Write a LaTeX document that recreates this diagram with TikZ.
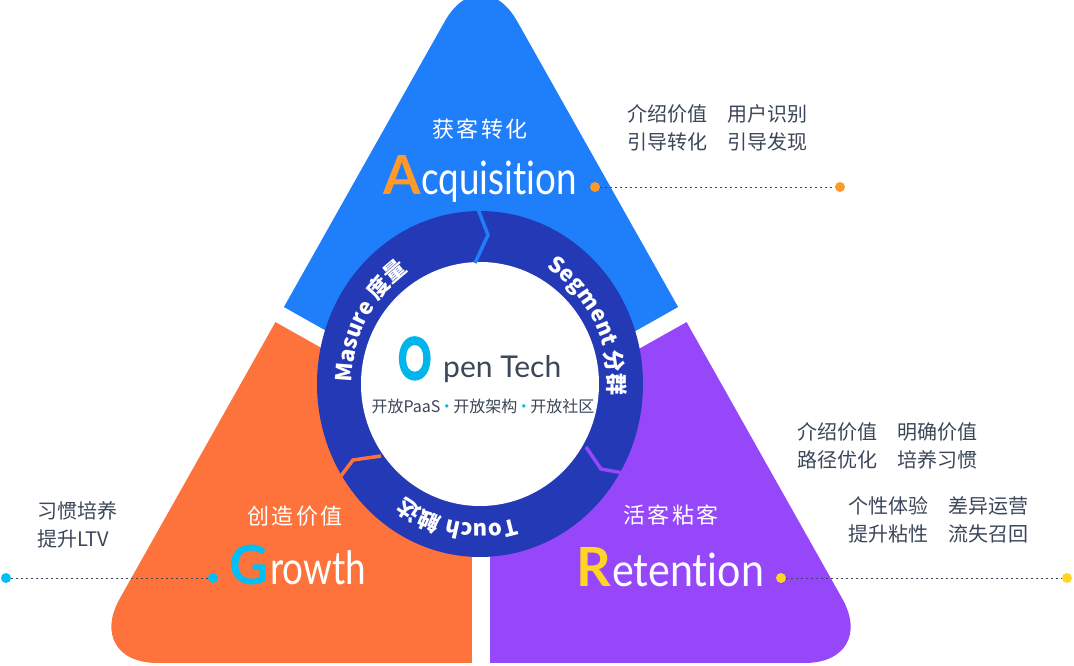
\documentclass[tikz,border=0pt]{standalone}
\usepackage{fontspec}
\setmainfont{Noto Sans CJK SC}
\newfontfamily\wordfont[Ligatures=NoCommon]{Lato}
\newfontfamily\heavyfont[FakeBold=4]{Lato}
\newfontfamily\spacedfont[LetterSpace=12]{Noto Sans CJK SC}
\usepackage{tikz}
\usetikzlibrary{decorations.text}
\definecolor{acqblue}{HTML}{1F7EF9}
\definecolor{groorange}{HTML}{FE733B}
\definecolor{retpurple}{HTML}{9747FA}
\definecolor{ringblue}{HTML}{2339B6}
\definecolor{ocyan}{HTML}{00B4EC}
\definecolor{gcyan}{HTML}{00BEF6}
\definecolor{ryellow}{HTML}{FFD426}
\definecolor{aorange}{HTML}{FF9A2A}
\definecolor{slate}{HTML}{3B4658}
\tikzstyle{title}=[text=white,font=\spacedfont\fontsize{22}{22}\selectfont]
\tikzstyle{capletter}=[font=\wordfont\bfseries\fontsize{54}{54}\selectfont,inner sep=0pt,anchor=base west]
\tikzstyle{word}=[text=white,font=\wordfont\fontsize{46}{46}\selectfont,xscale=0.8,inner sep=0pt,anchor=base west]
\tikzstyle{note}=[text=slate,font=\fontsize{20}{28}\selectfont,align=left,anchor=west,inner sep=0pt]
\tikzstyle{dotline}=[slate,line width=0.8pt,dash pattern=on 2pt off 3pt]
\tikzset{ringword/.style={decorate,decoration={text along path,text align=center,
  text={|\color{white}\bfseries\fontsize{22}{22}\selectfont|#1}}}}

\begin{document}
\begin{tikzpicture}[x=1pt,y=1pt]
\useasboundingbox (0,0) rectangle (1074,666);
\coordinate (apex) at (481,709);
\coordinate (bl) at (83.5,3);
\coordinate (br) at (878.5,3);
\coordinate (cen) at (481,238);
\coordinate (c) at (480,282);

\begin{scope}
\clip (cen) -- (-129,582) -- (-129,760) -- (1091,760) -- (1091,582) -- cycle;
\fill[acqblue,rounded corners=74pt] (apex) -- (br) -- (bl) -- cycle;
\end{scope}
\begin{scope}
\clip (cen) -- (-129,582) -- (-129,-20) -- (481,-20) -- cycle;
\fill[groorange,rounded corners=74pt] (apex) -- (br) -- (bl) -- cycle;
\end{scope}
\begin{scope}
\clip (cen) -- (1091,582) -- (1091,-20) -- (481,-20) -- cycle;
\fill[retpurple,rounded corners=74pt] (apex) -- (br) -- (bl) -- cycle;
\end{scope}
\draw[white,line width=17pt] (cen) -- ++(150.6:420);
\draw[white,line width=17pt] (cen) -- ++(29.4:420);
\draw[white,line width=18pt] (cen) -- ++(270:260);

% ring
\fill[ringblue] (c) ellipse [x radius=163pt,y radius=173pt];
\fill[white] (c) ellipse [x radius=119pt,y radius=122pt];
\draw[acqblue,line width=3.5pt] (478,457) -- (488,431) -- (475,403);
\draw[groorange,line width=3.5pt] (335,182) -- (353,206) -- (381,210);
\draw[retpurple,line width=3.5pt] (586,219) -- (601,197) -- (629,192);
\path[ringword={Masure 度量}] ([shift={(c)}]205:128pt and 136pt) arc[start angle=205,end angle=97,x radius=128pt,y radius=136pt];
\path[ringword={Segment 分群}] ([shift={(c)}]82:128pt and 136pt) arc[start angle=82,end angle=-27,x radius=128pt,y radius=136pt];
\path[ringword={Touch 触达}] ([shift={(c)}]297:128pt and 140pt) arc[start angle=297,end angle=223,x radius=128pt,y radius=140pt];

\node[capletter,text=ocyan,xscale=0.72,font=\heavyfont\bfseries\fontsize{57}{57}\selectfont] (openO) at (398,287) {O};
\node[text=slate,font=\wordfont\fontsize{30}{30}\selectfont,anchor=base west,inner sep=0pt] (openword) at (443,288) {pen Tech};
\node[text=slate,font=\fontsize{16}{16}\selectfont] (opensub) at (483,260) {开放PaaS\kern-1.5pt\textcolor{ocyan}{\textbullet}\kern-1.5pt开放架构\kern-1.5pt\textcolor{ocyan}{\textbullet}\kern-1.5pt开放社区};

\node[title] (acqtitle) at (480,537) {获客转化};
\node[capletter,text=aorange] (acqA) at (383,471) {A};
\node[word] (acqword) at (421,471) {cquisition};
\node[title] (grotitle) at (295,150) {创造价值};
\node[capletter,text=gcyan] (groG) at (229,81) {G};
\node[word] (groword) at (270,81) {rowth};
\node[title] (rettitle) at (671,151) {活客粘客};
\node[capletter,text=ryellow] (retR) at (576,79) {R};
\node[word,xscale=1.12] (retword) at (612,79) {etention};

\node[note] (acqnote) at (627,538) {介绍价值　用户识别\\引导转化　引导发现};
\node[note] (retnoteA) at (797,220.5) {介绍价值　明确价值\\路径优化　培养习惯};
\node[note] (retnoteB) at (848,146.5) {个性体验　差异运营\\提升粘性　流失召回};
\node[note] (gronote) at (37,141) {习惯培养\\提升LTV};

\node[circle,fill=aorange,minimum size=10pt,inner sep=0pt] (acqdotA) at (595,479) {};
\node[circle,fill=aorange,minimum size=10pt,inner sep=0pt] (acqdotB) at (840,479) {};
\node[circle,fill=gcyan,minimum size=10pt,inner sep=0pt] (grodotA) at (6,88) {};
\node[circle,fill=gcyan,minimum size=10pt,inner sep=0pt] (grodotB) at (213,88) {};
\node[circle,fill=ryellow,minimum size=10pt,inner sep=0pt] (retdotA) at (781,88) {};
\node[circle,fill=ryellow,minimum size=10pt,inner sep=0pt] (retdotB) at (1067,88) {};
\draw[dotline] (acqdotA) -- (acqdotB);
\draw[dotline] (grodotA) -- (grodotB);
\draw[dotline] (retdotA) -- (retdotB);
\end{tikzpicture}
\end{document}
